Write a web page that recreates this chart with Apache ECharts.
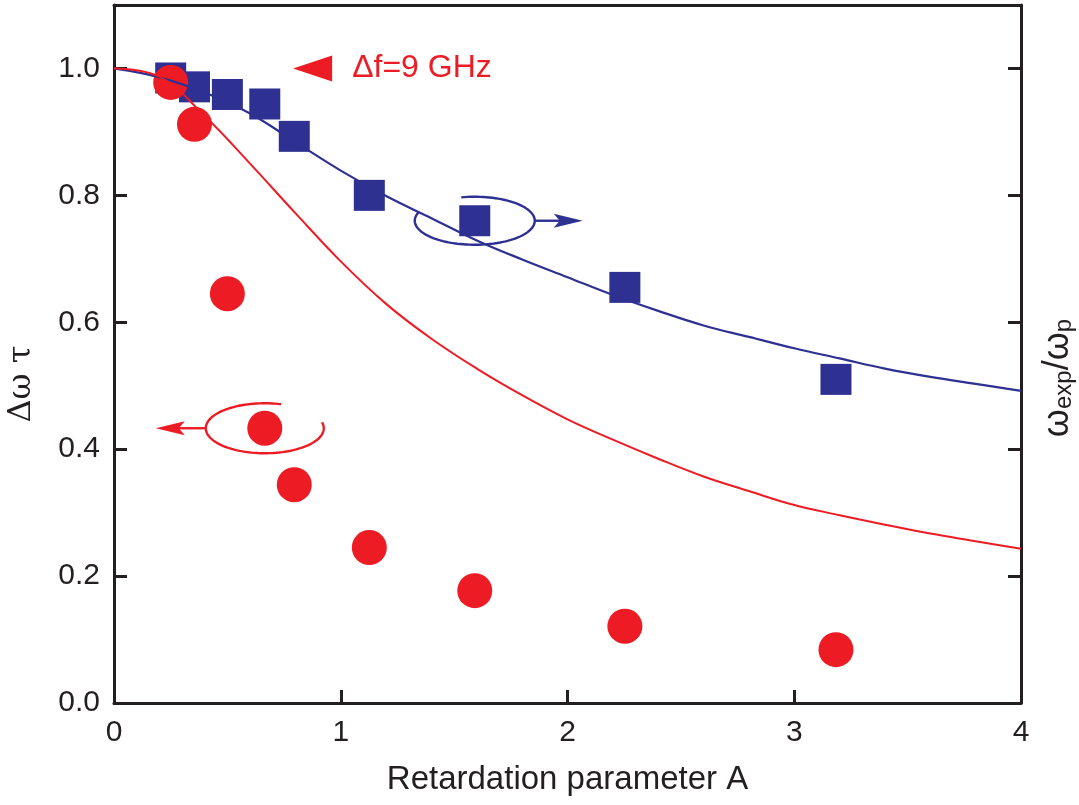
<!DOCTYPE html>
<html>
<head>
<meta charset="utf-8">
<script src="https://cdn.jsdelivr.net/npm/echarts@6/dist/echarts.min.js"></script>
<style>
  html, body { margin: 0; padding: 0; background: #fff; }
  #chart { width: 1079px; height: 805px; }
</style>
</head>
<body>
<div id="chart"></div>
<script>
// measured points
var retA = [0.25, 0.355, 0.50, 0.665, 0.795, 1.126, 1.591, 2.253, 3.184];
var dwt = [0.978, 0.912, 0.645, 0.433, 0.344, 0.245, 0.177, 0.121, 0.084];
var wRatio = [0.985, 0.971, 0.959, 0.944, 0.893, 0.800, 0.760, 0.655, 0.510];

// theory curves
var curveA = [0, 0.2, 0.4, 0.6, 0.8, 1.0, 1.2, 1.4, 1.6, 1.8, 2.0, 2.2, 2.4, 2.6, 2.8, 3.0, 3.2, 3.4, 3.6, 3.8, 4.0];
var dwtCurve = [1.0, 0.987, 0.925, 0.850, 0.772, 0.696, 0.629, 0.574, 0.527, 0.485, 0.447, 0.415, 0.385, 0.357, 0.334, 0.312, 0.296, 0.281, 0.267, 0.255, 0.243];
var wRatioCurve = [1.0, 0.986, 0.962, 0.929, 0.884, 0.839, 0.799, 0.764, 0.729, 0.699, 0.671, 0.643, 0.618, 0.595, 0.577, 0.559, 0.543, 0.527, 0.514, 0.503, 0.492];

var xTicks = [0, 1, 2, 3, 4];
var yTicks = ['0.0', '0.2', '0.4', '0.6', '0.8', '1.0'];

// annotation anchors (data coords)
var redLoopAt = [retA[3], dwt[3]];
var blueLoopAt = [retA[6], wRatio[6]];
var keyAt = [0.79, 1.0];
var keyText = 'Δf=9 GHz';
var leftTitle = 'Δω τ';

var RED = '#ed1c24';
var BLUE = '#2e3192';
var INK = '#231f20';
var FONT = 'Liberation Sans, Arial, sans-serif';

function pairs(xs, ys) {
    return xs.map(function (x, i) { return [x, ys[i]]; });
}

var axisLine = { show: true, onZero: false, lineStyle: { color: INK, width: 3 } };
var tick = { show: true, inside: true, length: 13, lineStyle: { color: INK, width: 3 } };

var chart = echarts.init(document.getElementById('chart'));

var option = {
    backgroundColor: '#ffffff',
    animation: false,
    grid: { left: 114, right: 58, top: 5, bottom: 102, outerBoundsMode: 'none' },
    xAxis: [{
        type: 'value',
        min: xTicks[0],
        max: xTicks[xTicks.length - 1],
        interval: 1,
        position: 'bottom',
        axisLine: axisLine,
        axisTick: tick,
        splitLine: { show: false },
        axisLabel: { fontSize: 30, color: INK, margin: 15, fontFamily: FONT },
        name: 'Retardation parameter A',
        nameLocation: 'middle',
        nameGap: 60,
        nameTextStyle: { fontSize: 33, color: INK, fontFamily: FONT }
    }, {
        type: 'value',
        min: 0, max: 4,
        position: 'top',
        axisLine: axisLine,
        axisTick: { show: false },
        axisLabel: { show: false },
        splitLine: { show: false }
    }],
    yAxis: [{
        type: 'value',
        min: 0, max: 1.1,
        interval: 0.2,
        position: 'left',
        axisLine: axisLine,
        axisTick: tick,
        splitLine: { show: false },
        axisLabel: {
            fontSize: 30, color: INK, margin: 14, fontFamily: FONT,
            showMaxLabel: false,
            formatter: function (v) { return yTicks[Math.round(v / 0.2)] || ''; }
        }
    }, {
        type: 'value',
        min: 0, max: 1.1,
        interval: 0.2,
        position: 'right',
        axisLine: axisLine,
        axisTick: tick,
        splitLine: { show: false },
        axisLabel: { show: false },
        name: '{a|ω}{b|exp}{a|/ω}{b|p}',
        nameLocation: 'middle',
        nameGap: 19,
        nameTextStyle: {
            color: INK,
            fontFamily: FONT,
            padding: [0, 48, 0, 0],
            rich: {
                a: { fontSize: 36, color: INK, fontFamily: FONT, verticalAlign: 'bottom' },
                b: { fontSize: 24, color: INK, fontFamily: FONT, verticalAlign: 'bottom' }
            }
        }
    }],
    series: [{
        type: 'scatter',
        xAxisIndex: 0, yAxisIndex: 1,
        symbol: 'rect',
        symbolSize: 31,
        itemStyle: { color: BLUE, opacity: 1 },
        data: pairs(retA, wRatio)
    }, {
        type: 'scatter',
        symbol: 'circle',
        symbolSize: 35,
        itemStyle: { color: RED, opacity: 1 },
        data: pairs(retA, dwt)
    }, {
        type: 'line',
        xAxisIndex: 0, yAxisIndex: 1,
        showSymbol: false,
        smooth: 0.4,
        lineStyle: { color: BLUE, width: 2.2 },
        data: pairs(curveA, wRatioCurve)
    }, {
        type: 'line',
        showSymbol: false,
        smooth: 0.4,
        lineStyle: { color: RED, width: 2 },
        data: pairs(curveA, dwtCurve)
    }]
};

chart.setOption(option);

// open ellipse round a point, drawn as a polyline
function loop(cx, cy, rx, ry, fromDeg, toDeg) {
    var pts = [];
    for (var a = fromDeg; a <= toDeg; a += 3) {
        var t = a * Math.PI / 180;
        pts.push([cx + rx * Math.cos(t), cy - ry * Math.sin(t)]);
    }
    return pts;
}

function arrowHead(tipX, y, dir, color) {
    // dir = -1 points left, +1 points right
    return {
        type: 'polygon',
        shape: { points: [[tipX, y], [tipX - dir * 29, y - 7], [tipX - dir * 23, y], [tipX - dir * 29, y + 7]] },
        style: { fill: color },
        z: 10
    };
}

var r = chart.convertToPixel({ gridIndex: 0 }, redLoopAt);
var b = chart.convertToPixel({ gridIndex: 0 }, blueLoopAt);
var k = chart.convertToPixel({ gridIndex: 0 }, keyAt);
var o = chart.convertToPixel({ gridIndex: 0 }, [0, 0.55]);

chart.setOption({
    graphic: [
        { type: 'polyline', shape: { points: loop(r[0], r[1], 59, 25, 74, 375) },
          style: { stroke: RED, lineWidth: 2.4, fill: null }, z: 10 },
        { type: 'line', shape: { x1: r[0] - 59, y1: r[1], x2: r[0] - 90, y2: r[1] },
          style: { stroke: RED, lineWidth: 2.4 }, z: 10 },
        arrowHead(r[0] - 109, r[1], -1, RED),

        { type: 'polyline', shape: { points: loop(b[0], b[1], 60, 24, 160, 464) },
          style: { stroke: BLUE, lineWidth: 2.4, fill: null }, z: 10 },
        { type: 'line', shape: { x1: b[0] + 60, y1: b[1], x2: b[0] + 90, y2: b[1] },
          style: { stroke: BLUE, lineWidth: 2.4 }, z: 10 },
        arrowHead(b[0] + 108, b[1], 1, BLUE),

        { type: 'polygon', shape: { points: [[k[0], k[1]], [k[0] + 39, k[1] - 13], [k[0] + 39, k[1] + 13]] },
          style: { fill: RED }, z: 10 },
        { type: 'text', x: k[0] + 59, y: k[1],
          style: { text: keyText, fill: RED, fontSize: 32, fontFamily: FONT, verticalAlign: 'middle', align: 'left' }, z: 10 },

        // left axis title, a little below the middle as in the figure
        { type: 'text', x: o[0] - 92, y: o[1] + 30, rotation: Math.PI / 2,
          style: { text: leftTitle, fill: INK, fontSize: 32, fontFamily: 'DejaVu Serif', align: 'center', verticalAlign: 'middle' }, z: 10 }
    ]
});
</script>
</body>
</html>
